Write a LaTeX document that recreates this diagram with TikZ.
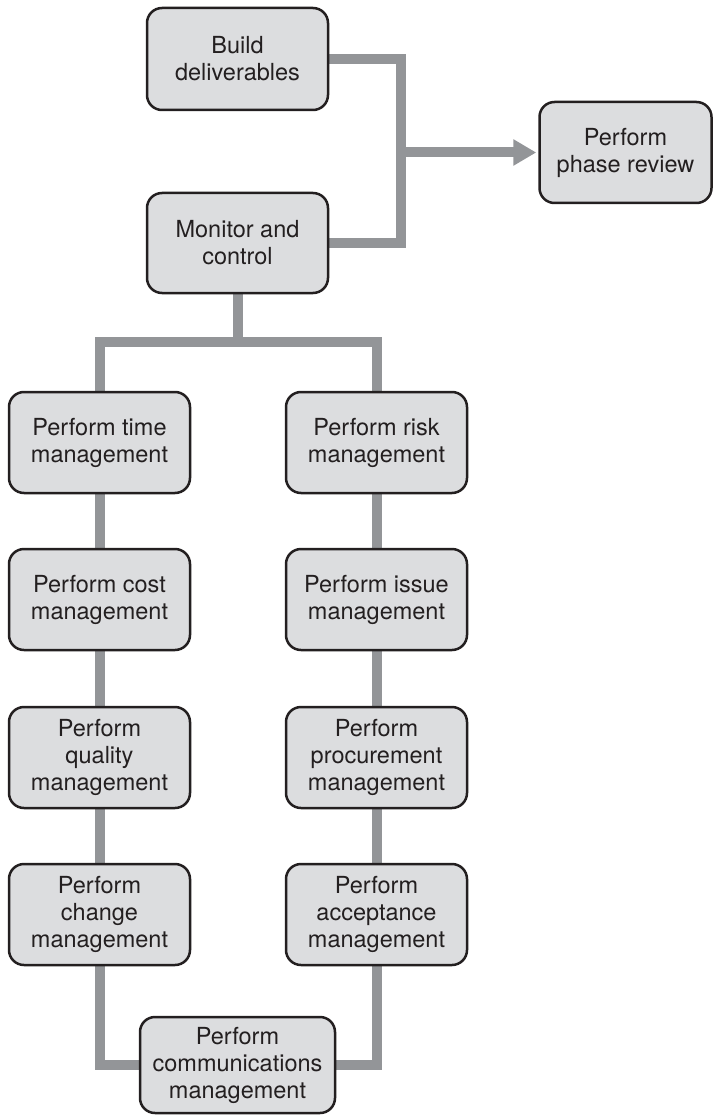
\documentclass[tikz,border=0pt]{standalone}
\usepackage{fontspec}
\setmainfont{TeX Gyre Heros}
\usetikzlibrary{arrows.meta,backgrounds}
\definecolor{boxfill}{RGB}{220,221,223}
\definecolor{boxline}{RGB}{35,31,32}
\definecolor{connc}{RGB}{147,149,152}
\tikzset{
  procbox/.style={draw=boxline, line width=2.5pt, fill=boxfill, rounded corners=15pt,
    minimum width=181pt, minimum height=101pt, align=center, inner sep=0pt,
    text=boxline, font=\fontsize{23.5}{27}\selectfont},
  conn/.style={draw=connc, line width=10pt, line join=miter},
}
\begin{document}
\begin{tikzpicture}[x=1pt,y=-1pt]
\useasboundingbox (0,0) rectangle (713,1115);
\node[procbox, minimum height=102pt] (build) at (237.5,59) {Build\\deliverables};
\node[procbox, minimum height=100pt] (monitor) at (237.5,243) {Monitor and\\control};
\node[procbox, minimum width=172pt] (phase) at (625.5,152.5) {Perform\\phase review};
\node[procbox] (time) at (99.5,442.5) {Perform time\\management};
\node[procbox] (risk) at (376.5,442.5) {Perform risk\\management};
\node[procbox] (cost) at (99.5,599.5) {Perform cost\\management};
\node[procbox] (issue) at (376.5,599.5) {Perform issue\\management};
\node[procbox] (quality) at (99.5,757.5) {Perform\\quality\\management};
\node[procbox] (procure) at (376.5,757.5) {Perform\\procurement\\management};
\node[procbox] (change) at (99.5,914.5) {Perform\\change\\management};
\node[procbox] (accept) at (376.5,914.5) {Perform\\acceptance\\management};
\node[procbox, minimum width=195pt, minimum height=96pt] (comm) at (237.5,1065) {Perform\\communications\\management};
\coordinate (j) at (401,152.5);
\coordinate (s) at (237.5,342);
\begin{pgfonlayer}{background}
\draw[conn] (build.east) -| (j) |- (monitor.east);
\draw[conn, -{Triangle[length=23pt,width=25pt]}] (j) -- ([xshift=-2pt]phase.west);
\draw[conn] (monitor.south) -- (s);
\draw[conn] (time.north) |- (s) -| (risk.north);
\draw[conn] (time) -- (cost);
\draw[conn] (cost) -- (quality);
\draw[conn] (quality) -- (change);
\draw[conn] (risk) -- (issue);
\draw[conn] (issue) -- (procure);
\draw[conn] (procure) -- (accept);
\draw[conn] (change.south) |- (comm.west);
\draw[conn] (accept.south) |- (comm.east);
\end{pgfonlayer}
\end{tikzpicture}
\end{document}
